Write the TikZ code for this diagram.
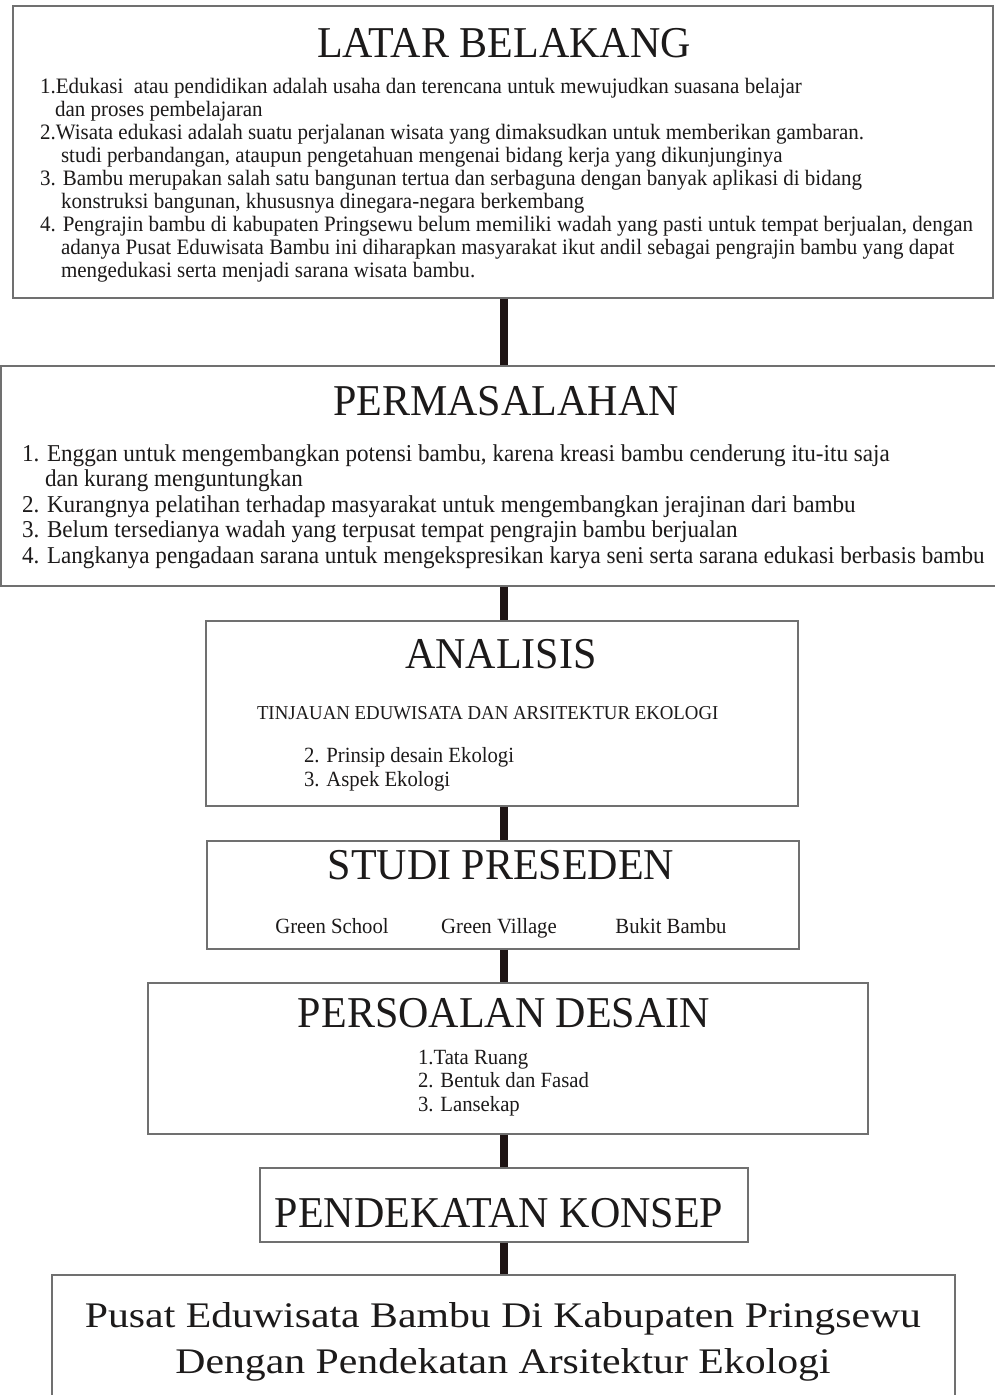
\documentclass[tikz,border=0pt]{standalone}
\usepackage{fontspec}
\setmainfont[FakeStretch=0.955]{Liberation Serif}
\newfontfamily\finalfam[FakeStretch=1.16]{Liberation Serif}
\newcommand{\fTitle}{\fontsize{44}{48}\selectfont}
\newcommand{\fBodyA}{\fontsize{22}{23}\selectfont}
\newcommand{\fBodyB}{\fontsize{24.2}{25}\selectfont}
\newcommand{\fSmall}{\fontsize{19.7}{20}\selectfont}
\newcommand{\fItem}{\fontsize{21.7}{22}\selectfont}
\newcommand{\fFinal}{\finalfam\fontsize{36}{40}\selectfont}
\definecolor{boxgray}{HTML}{707070}
\definecolor{ink}{HTML}{1C1A1A}
\definecolor{spinecol}{HTML}{1E1414}
\tikzset{
  x=1pt, y=-1pt,
  frame/.style={draw=boxgray, line width=1.4pt, rectangle, inner sep=0pt, fill=white},
  txt/.style={inner sep=0pt, outer sep=0pt, anchor=base west, text=ink},
  ctxt/.style={inner sep=0pt, outer sep=0pt, anchor=base, text=ink},
  conn/.style={draw=spinecol, line width=8pt}
}
\begin{document}
\begin{tikzpicture}
\useasboundingbox (0,0) rectangle (995,1395);
\fill[white] (0,0) rectangle (995,1395);
\coordinate (spine) at (504,0);
% boxes
\node[frame, minimum width=980pt, minimum height=292pt] (b1) at (503,152) {};
\node[frame, minimum width=998pt, minimum height=220pt] (b2) at (500,476) {};
\node[frame, minimum width=592pt, minimum height=185pt] (b3) at (502,713.5) {};
\node[frame, minimum width=592pt, minimum height=108pt] (b4) at (503,895) {};
\node[frame, minimum width=720pt, minimum height=151pt] (b5) at (508,1058.5) {};
\node[frame, minimum width=488pt, minimum height=74pt] (b6) at (504,1205) {};
\node[frame, minimum width=903pt, minimum height=140pt] (b7) at (503.5,1345) {};
% connectors
\draw[conn] (b1.south -| spine) -- (b2.north -| spine);
\draw[conn] (b2.south -| spine) -- (b3.north -| spine);
\draw[conn] (b3.south -| spine) -- (b4.north -| spine);
\draw[conn] (b4.south -| spine) -- (b5.north -| spine);
\draw[conn] (b5.south -| spine) -- (b6.north -| spine);
\draw[conn] (b6.south -| spine) -- (b7.north -| spine);
% box 1
\node[ctxt, font=\fTitle] (t1) at (504,57) {LATAR BELAKANG};
\node[txt, font=\fBodyA] (a1) at (40,93) {1.Edukasi\ \ atau pendidikan adalah usaha dan terencana untuk mewujudkan suasana belajar};
\node[txt, font=\fBodyA] (a2) at (55,116.1) {dan proses pembelajaran};
\node[txt, font=\fBodyA] (a3) at (40,139.2) {2.Wisata edukasi adalah suatu perjalanan wisata yang dimaksudkan untuk memberikan gambaran.};
\node[txt, font=\fBodyA] (a4) at (61,162.3) {studi perbandangan, ataupun pengetahuan mengenai bidang kerja yang dikunjunginya};
\node[txt, font=\fBodyA] (a5) at (40,185.4) {3. Bambu merupakan salah satu bangunan tertua dan serbaguna dengan banyak aplikasi di bidang};
\node[txt, font=\fBodyA] (a6) at (61,208.5) {konstruksi bangunan, khususnya dinegara-negara berkembang};
\node[txt, font=\fBodyA] (a7) at (40,231.6) {4. Pengrajin bambu di kabupaten Pringsewu belum memiliki wadah yang pasti untuk tempat berjualan, dengan};
\node[txt, font=\fBodyA] (a8) at (61,254.7) {adanya Pusat Eduwisata Bambu ini diharapkan masyarakat ikut andil sebagai pengrajin bambu yang dapat};
\node[txt, font=\fBodyA] (a9) at (61,277.8) {mengedukasi serta menjadi sarana wisata bambu.};
% box 2
\node[ctxt, font=\fTitle] (t2) at (506,415) {PERMASALAHAN};
\node[txt, font=\fBodyB] (p1) at (22,461) {1. Enggan untuk mengembangkan potensi bambu, karena kreasi bambu cenderung itu-itu saja};
\node[txt, font=\fBodyB] (p2) at (45,486) {dan kurang menguntungkan};
\node[txt, font=\fBodyB] (p3) at (22,512) {2. Kurangnya pelatihan terhadap masyarakat untuk mengembangkan jerajinan dari bambu};
\node[txt, font=\fBodyB] (p4) at (22,537) {3. Belum tersedianya wadah yang terpusat tempat pengrajin bambu berjualan};
\node[txt, font=\fBodyB] (p5) at (22,563) {4. Langkanya pengadaan sarana untuk mengekspresikan karya seni serta sarana edukasi berbasis bambu};
% box 3
\node[ctxt, font=\fTitle] (t3) at (501,668) {ANALISIS};
\node[txt, font=\fSmall] (n1) at (257,719) {TINJAUAN EDUWISATA DAN ARSITEKTUR EKOLOGI};
\node[txt, font=\fItem] (n2) at (304,762) {2. Prinsip desain Ekologi};
\node[txt, font=\fItem] (n3) at (304,786) {3. Aspek Ekologi};
% box 4
\node[ctxt, font=\fTitle] (t4) at (501,879) {STUDI PRESEDEN};
\node[ctxt, font=\fItem] (s1) at (332,933) {Green School};
\node[ctxt, font=\fItem] (s2) at (499,933) {Green Village};
\node[ctxt, font=\fItem] (s3) at (671,933) {Bukit Bambu};
% box 5
\node[ctxt, font=\fTitle] (t5) at (504,1027) {PERSOALAN DESAIN};
\node[txt, font=\fItem] (d1) at (418,1064) {1.Tata Ruang};
\node[txt, font=\fItem] (d2) at (418,1087.5) {2. Bentuk dan Fasad};
\node[txt, font=\fItem] (d3) at (418,1111) {3. Lansekap};
% box 6
\node[ctxt, font=\fTitle] (t6) at (499,1227) {PENDEKATAN KONSEP};
% box 7
\node[ctxt, font=\fFinal] (f1) at (503,1327) {Pusat Eduwisata Bambu Di Kabupaten Pringsewu};
\node[ctxt, font=\fFinal] (f2) at (503,1373) {Dengan Pendekatan Arsitektur Ekologi};
\end{tikzpicture}
\end{document}
